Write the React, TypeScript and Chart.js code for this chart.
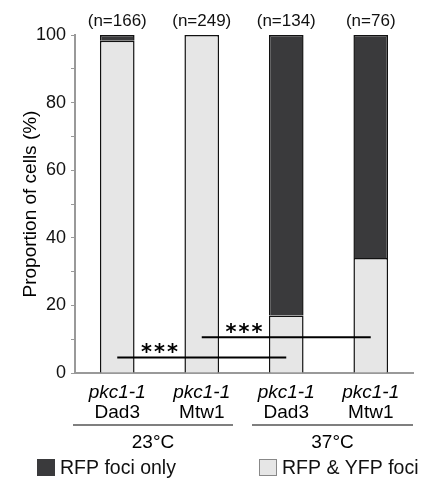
import React, { useEffect, useRef } from "react";
import { Chart, registerables } from "chart.js";

Chart.register(...registerables);

const strains = ["pkc1-1", "pkc1-1", "pkc1-1", "pkc1-1"];
const proteins = ["Dad3", "Mtw1", "Dad3", "Mtw1"];
const counts = ["(n=166)", "(n=249)", "(n=134)", "(n=76)"];
const temperatures = ["23°C", "37°C"];
const bothFoci = [98.3, 100, 17, 34];
const rfpOnly = [1.7, 0, 83, 66];
const yTicks = [0, 20, 40, 60, 80, 100];
const sigComparisons = [
  { from: 0, to: 2, y: 4.6, label: "***" },
  { from: 1, to: 3, y: 10.6, label: "***" },
];

const DARK = "#3a3a3c";
const LIGHT = "#e6e6e6";
const FONT = "'Liberation Sans', Arial, Helvetica, sans-serif";

const annotate = {
  id: "annotate",
  afterDraw(chart: any) {
    const ctx = chart.ctx;
    const xs = chart.scales.x;
    const ys = chart.scales.y;
    const ca = chart.chartArea;
    ctx.save();
    // n labels
    ctx.fillStyle = "#111";
    ctx.textAlign = "center";
    ctx.textBaseline = "middle";
    ctx.font = `17px ${FONT}`;
    counts.forEach((c, i) => ctx.fillText(c, xs.getPixelForValue(i), ca.top - 14));
    // significance
    ctx.strokeStyle = "#000";
    ctx.lineWidth = 2;
    sigComparisons.forEach((s) => {
      const x1 = xs.getPixelForValue(s.from);
      const x2 = xs.getPixelForValue(s.to);
      const y = ys.getPixelForValue(s.y);
      ctx.beginPath();
      ctx.moveTo(x1, y);
      ctx.lineTo(x2, y);
      ctx.stroke();
      ctx.font = `bold 21px 'DejaVu Sans', sans-serif`;
      ctx.textBaseline = "middle";
      ctx.fillStyle = "#000";
      const mid = xs.getPixelForValue((s.from + s.to) / 2 - 0.5);
      const chars = s.label.split("");
      const gap = 13;
      chars.forEach((ch, k) => {
        ctx.fillText(ch, mid + (k - (chars.length - 1) / 2) * gap, y - 4);
      });
    });
    // category labels
    ctx.textBaseline = "middle";
    strains.forEach((s, i) => {
      const x = xs.getPixelForValue(i);
      ctx.font = `italic 19px ${FONT}`;
      ctx.fillText(s, x, ca.bottom + 20);
      ctx.font = `19px ${FONT}`;
      ctx.fillText(proteins[i], x, ca.bottom + 40);
    });
    // group lines & temps
    const step = xs.getPixelForValue(1) - xs.getPixelForValue(0);
    ctx.lineWidth = 1.2;
    temperatures.forEach((t, g) => {
      const left = xs.getPixelForValue(g * 2) - step / 2 + (g === 0 ? -2 : 8);
      const right = xs.getPixelForValue(g * 2 + 1) + step / 2 + (g === 0 ? -11 : 0);
      const ly = ca.bottom + 52;
      ctx.beginPath();
      ctx.moveTo(left, ly);
      ctx.lineTo(right, ly);
      ctx.stroke();
      ctx.font = `19px ${FONT}`;
      ctx.fillText(t, (left + right) / 2, ca.bottom + 70);
    });
    // y title
    ctx.save();
    ctx.translate(31, (ca.top + ca.bottom) / 2);
    ctx.rotate(-Math.PI / 2);
    ctx.font = `19px ${FONT}`;
    ctx.fillText("Proportion of cells (%)", 0, 0);
    ctx.restore();
    // legend
    const legY = ca.bottom + 95;
    const items = [
      { x: 37, color: DARK, border: DARK, label: "RFP foci only" },
      { x: 259, color: LIGHT, border: "#888", label: "RFP & YFP foci" },
    ];
    ctx.textAlign = "left";
    items.forEach((it) => {
      ctx.fillStyle = it.color;
      ctx.fillRect(it.x, legY - 9, 18, 17);
      ctx.strokeStyle = it.border;
      ctx.lineWidth = 1;
      ctx.strokeRect(it.x + 0.5, legY - 8.5, 17, 16);
      ctx.fillStyle = "#111";
      ctx.font = `19.5px ${FONT}`;
      ctx.fillText(it.label, it.x + 23, legY + 1);
    });
    ctx.restore();
  },
};

export default function App() {
  const ref = useRef<HTMLCanvasElement>(null);
  useEffect(() => {
    document.body.style.margin = "0";
    const chart = new Chart(ref.current!, {
      type: "bar",
      data: {
        labels: proteins,
        datasets: [
          {
            label: "RFP & YFP foci",
            data: bothFoci,
            backgroundColor: LIGHT,
            borderColor: "#111",
            borderWidth: { left: 1.5, right: 1.5, top: 1.5, bottom: 0 } as any,
            borderSkipped: false,
            categoryPercentage: 1,
            barPercentage: 0.41,
          },
          {
            label: "RFP foci only",
            data: rfpOnly,
            backgroundColor: DARK,
            borderColor: "#111",
            borderWidth: { left: 1.5, right: 1.5, top: 1.5, bottom: 0 } as any,
            borderSkipped: false,
            categoryPercentage: 1,
            barPercentage: 0.41,
          },
        ],
      },
      options: {
        animation: false,
        responsive: false,
        layout: { padding: { top: 35, right: 9, left: 0, bottom: 0 } },
        plugins: { legend: { display: false }, tooltip: { enabled: false } },
        scales: {
          x: {
            stacked: true,
            grid: { display: false },
            ticks: { display: false },
            border: { color: "#999", width: 2 },
            afterFit: (s: any) => {
              s.height = 108;
            },
          },
          y: {
            stacked: true,
            min: 0,
            max: 100,
            ticks: {
              stepSize: 10,
              color: "#111",
              font: { family: FONT, size: 18 },
              padding: 5,
              callback: (v: any) => (yTicks.includes(Number(v)) ? String(v) : ""),
            },
            grid: {
              drawOnChartArea: false,
              drawTicks: true,
              tickLength: 4,
              color: "#999",
            },
            border: { color: "#999", width: 2 },
            afterFit: (s: any) => {
              s.width = 75;
            },
          },
        },
      },
      plugins: [annotate],
    });
    return () => chart.destroy();
  }, []);
  return <canvas ref={ref} width={422} height={481} style={{ display: "block" }} />;
}
